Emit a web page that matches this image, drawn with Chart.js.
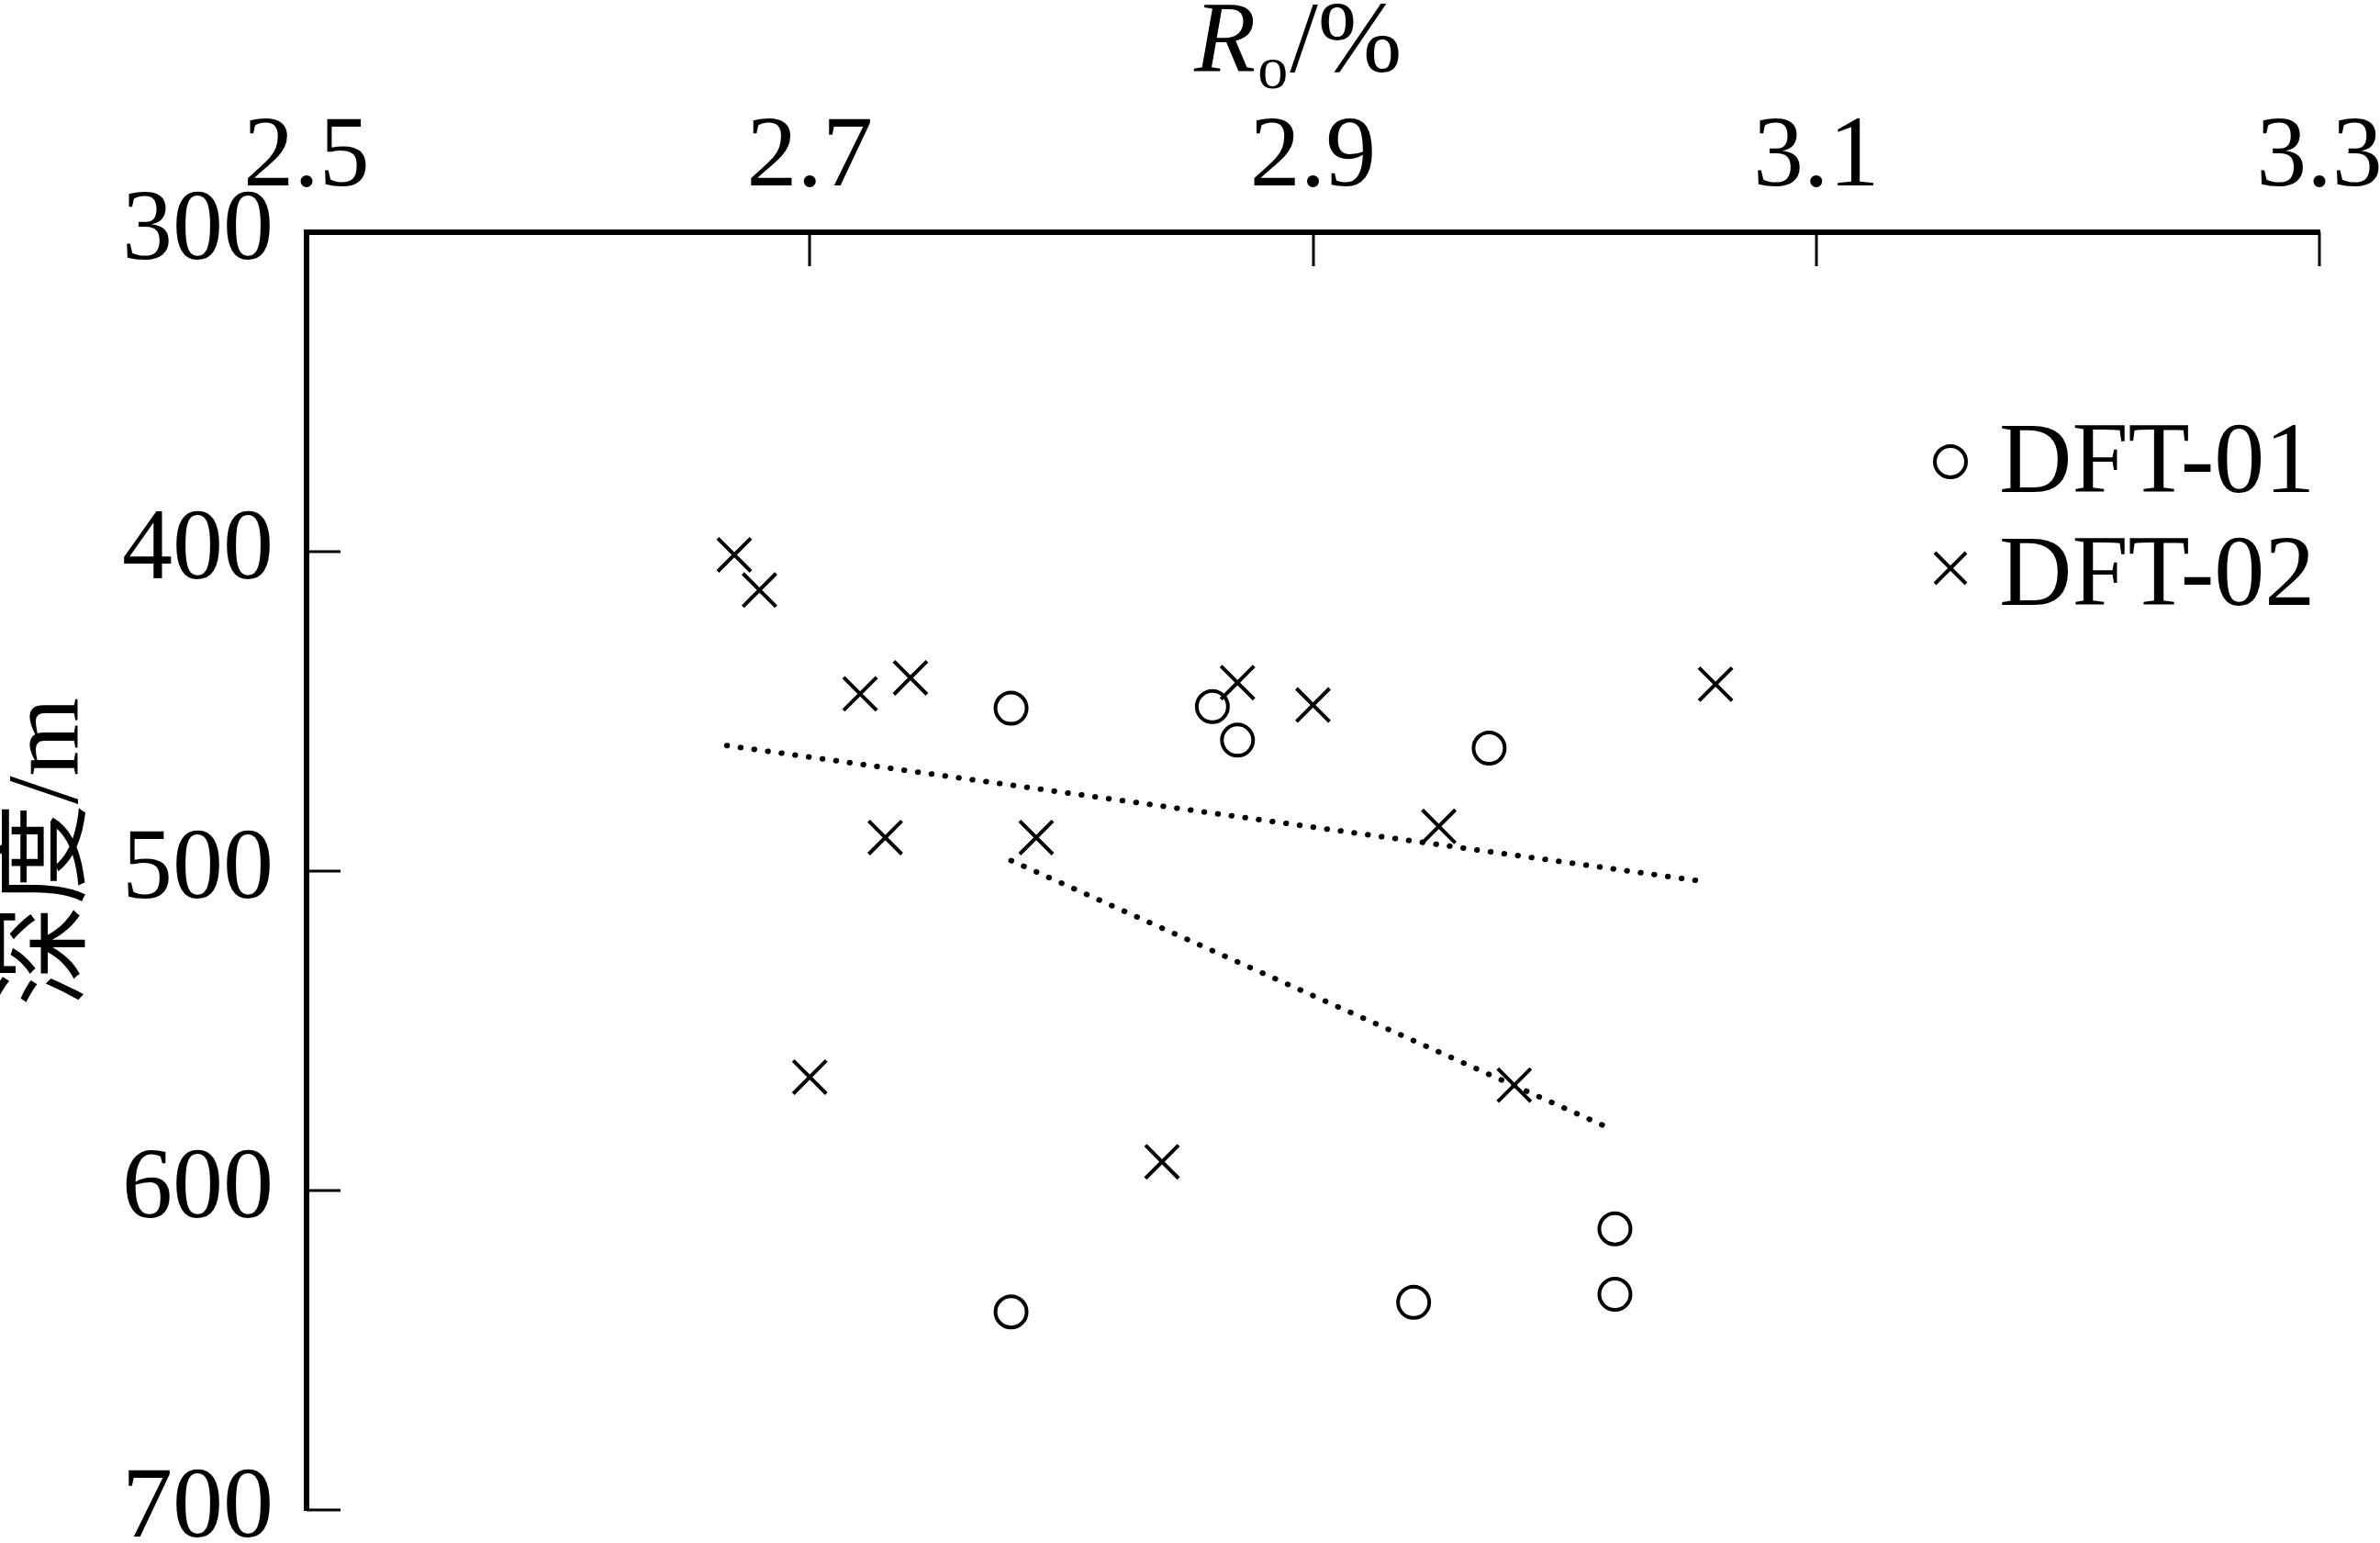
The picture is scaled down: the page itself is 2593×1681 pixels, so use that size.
<!DOCTYPE html>
<html>
<head>
<meta charset="utf-8">
<script src="https://cdn.jsdelivr.net/npm/chart.js@4.4.0/dist/chart.umd.min.js"></script>
<style>
html, body { margin: 0; padding: 0; background: #fff; }
#wrap { width: 2593px; height: 1681px; position: relative; }
</style>
</head>
<body>
<div id="wrap"><canvas id="roChart"></canvas></div>
<script>
/* ================= DATA ================= */

const xTickValues = [2.5, 2.7, 2.9, 3.1, 3.3];
const yTickValues = [300, 400, 500, 600, 700];

const seriesNames = ["DFT-01", "DFT-02"];

const dft01Ro    = [2.78, 2.86, 2.87, 2.97, 3.02, 3.02, 2.94, 2.78];
const dft01Depth = [449, 448.5, 459, 461.5, 612, 632.5, 635, 638];

const dft02Ro    = [2.67, 2.68, 2.72, 2.74, 2.73, 2.79, 2.70, 2.84, 2.87, 2.90, 2.95, 2.98, 3.06];
const dft02Depth = [401, 412, 444.5, 439.5, 489.5, 489.5, 564.5, 591, 441, 448, 486, 567, 441.5];

const trendARo    = [2.667, 3.053];
const trendADepth = [460.7, 503];
const trendBRo    = [2.78, 3.015];
const trendBDepth = [496.7, 579.5];

/* ================= STYLE ================= */

const SERIF = '"Liberation Serif", "Times New Roman", serif';
const CJK = '"Liberation Serif", "Noto Sans CJK SC", serif';
const FONT_PX = 110;

function pts(xs, ys) { return xs.map((x, i) => ({ x, y: ys[i] })); }

// keep tick labels from pushing the plot area around
function noOverflow(s) {
    s.paddingLeft = 0;
    s.paddingRight = 0;
    s.paddingTop = 0;
    s.paddingBottom = 0;
}

/* ================= EXTRA DRAWING ================= */

// inward tick marks, axis titles and the legend box
const decorations = {
    id: "decorations",
    afterDraw(chart) {
        const ctx = chart.ctx;
        const xs = chart.scales.x;
        const ys = chart.scales.y;
        const area = chart.chartArea;
        const tickLen = 37;

        ctx.save();
        ctx.strokeStyle = "#000";
        ctx.lineWidth = 3;
        xs.ticks.forEach(t => {
            const px = Math.round(xs.getPixelForValue(t.value));
            ctx.beginPath();
            ctx.moveTo(px, area.top);
            ctx.lineTo(px, area.top + tickLen);
            ctx.stroke();
        });
        ys.ticks.forEach(t => {
            const py = Math.round(ys.getPixelForValue(t.value));
            ctx.beginPath();
            ctx.moveTo(area.left, py);
            ctx.lineTo(area.left + tickLen, py);
            ctx.stroke();
        });

        // x title: R (italic) + subscript o + /%
        ctx.fillStyle = "#000";
        ctx.textBaseline = "alphabetic";
        ctx.textAlign = "left";
        let x = 1301;
        ctx.font = "italic " + FONT_PX + "px " + SERIF;
        ctx.fillText("R", x, 78);
        x += ctx.measureText("R").width + 2;
        ctx.font = "66px " + SERIF;
        ctx.fillText("o", x, 96);
        x += ctx.measureText("o").width + 2;
        ctx.font = FONT_PX + "px " + SERIF;
        ctx.fillText("/%", x, 78);

        // y title, rotated
        ctx.save();
        ctx.translate(55, 928);
        ctx.rotate(-Math.PI / 2);
        ctx.font = FONT_PX + "px " + CJK;
        ctx.textAlign = "center";
        ctx.textBaseline = "middle";
        ctx.fillText("深度/m", 0, 0);
        ctx.restore();

        // legend
        const lx = 2125;
        const rows = [503, 619];
        ctx.lineWidth = 4;
        ctx.beginPath();
        ctx.arc(lx, rows[0], 17, 0, Math.PI * 2);
        ctx.stroke();
        ctx.beginPath();
        ctx.moveTo(lx - 17, rows[1] - 17);
        ctx.lineTo(lx + 17, rows[1] + 17);
        ctx.moveTo(lx + 17, rows[1] - 17);
        ctx.lineTo(lx - 17, rows[1] + 17);
        ctx.stroke();
        ctx.font = FONT_PX + "px " + SERIF;
        ctx.textAlign = "left";
        ctx.textBaseline = "alphabetic";
        ctx.fillText(seriesNames[0], 2178, 536);
        ctx.fillText(seriesNames[1], 2178, 659);
        ctx.restore();
    }
};

/* ================= CHART ================= */

const dotted = {
    type: "line",
    showLine: true,
    borderColor: "#000",
    borderWidth: 6,
    borderDash: [0.5, 14.5],
    borderCapStyle: "round",
    pointRadius: 0,
    fill: false
};

new Chart(document.getElementById("roChart"), {
    type: "scatter",
    data: {
        datasets: [
            {
                label: seriesNames[0],
                data: pts(dft01Ro, dft01Depth),
                pointStyle: "circle",
                pointRadius: 17,
                pointBorderWidth: 4,
                borderColor: "#000",
                backgroundColor: "rgba(0,0,0,0)"
            },
            {
                label: seriesNames[1],
                data: pts(dft02Ro, dft02Depth),
                pointStyle: "crossRot",
                pointRadius: 25.5,
                pointBorderWidth: 4,
                borderColor: "#000",
                backgroundColor: "rgba(0,0,0,0)"
            },
            Object.assign({ label: "trendA", data: pts(trendARo, trendADepth) }, dotted),
            Object.assign({ label: "trendB", data: pts(trendBRo, trendBDepth) }, dotted)
        ]
    },
    options: {
        responsive: true,
        maintainAspectRatio: false,
        animation: false,
        layout: { padding: { left: 0, top: 0, right: 66, bottom: 36 } },
        plugins: {
            legend: { display: false },
            tooltip: { enabled: false }
        },
        scales: {
            x: {
                type: "linear",
                position: "top",
                min: 2.5,
                max: 3.3,
                afterBuildTicks: s => { s.ticks = xTickValues.map(v => ({ value: v })); },
                afterFit: s => { s.height = 253; noOverflow(s); },
                grid: { display: false, drawTicks: false },
                border: { display: true, width: 6, color: "#000" },
                ticks: {
                    padding: 14,
                    color: "#000",
                    maxRotation: 0,
                    font: { family: SERIF, size: FONT_PX },
                    callback: v => Number(v).toFixed(1)
                }
            },
            y: {
                type: "linear",
                position: "left",
                reverse: true,
                min: 300,
                max: 700,
                afterBuildTicks: s => { s.ticks = yTickValues.map(v => ({ value: v })); },
                afterFit: s => { s.width = 334; noOverflow(s); },
                grid: { display: false, drawTicks: false },
                border: { display: true, width: 6, color: "#000" },
                ticks: {
                    padding: 36,
                    color: "#000",
                    font: { family: SERIF, size: FONT_PX },
                    callback: v => String(v)
                }
            }
        }
    },
    plugins: [decorations]
});
</script>
</body>
</html>
